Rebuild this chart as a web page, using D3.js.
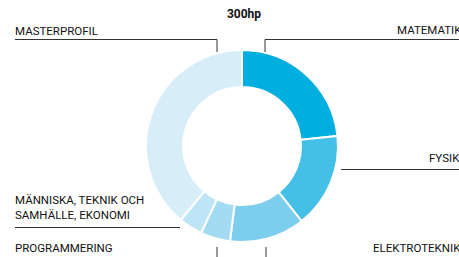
<!DOCTYPE html>
<html>
<head>
<meta charset="utf-8">
<script src="https://cdn.jsdelivr.net/npm/d3@7"></script>
<style>
  body { margin: 0; background: #fff; }
  svg { display: block; font-family: Roboto, "Noto Sans", sans-serif; }
</style>
</head>
<body>
<svg class="donut"></svg>
<script>
// course blocks of the 300hp programme
const categories = ["Matematik", "Fysik", "Elektroteknik", "Programmering", "Människa, teknik och samhälle, ekonomi", "Masterprofil"];
const credits = [70, 48, 38, 15, 12, 117];
const colors = ["#00aee0", "#44c0e8", "#7dceed", "#a2dbf2", "#bde5f6", "#d7eef9"];
const title = "300hp";

const width = 459, height = 257;
const cx = 242, cy = 146;
const outerR = 96, innerR = 59;

const svg = d3.select("svg.donut")
    .attr("width", width)
    .attr("height", height);

svg.append("text")
    .attr("x", 244).attr("y", 18)
    .attr("text-anchor", "middle")
    .attr("font-size", 12).attr("font-weight", 700)
    .attr("fill", "#111")
    .text(title);

const pie = d3.pie().sort(null).value(d => d.v);
const arc = d3.arc().innerRadius(innerR).outerRadius(outerR);
const data = categories.map((c, i) => ({ name: c, v: credits[i], color: colors[i] }));

svg.append("g")
    .attr("transform", `translate(${cx},${cy})`)
    .selectAll("path")
    .data(pie(data))
    .join("path")
    .attr("d", arc)
    .attr("fill", d => d.data.color)
    .attr("stroke", "#fff")
    .attr("stroke-width", 2);

// label layout (positions only, text comes from categories)
const labels = [
  { i: 0, x: 397, y: 34, line: [[265, 52], [265, 39.5], [470, 39.5]] },
  { i: 1, x: 429, y: 162, line: [[341, 169.5], [470, 169.5]] },
  { i: 2, x: 373, y: 252, line: [[266, 247], [266, 262]] },
  { i: 3, x: 15, y: 252, line: [[217, 247], [217, 262]] },
  { i: 4, x: 15, y: 204, line: [[15, 227.5], [180, 227.5]] },
  { i: 5, x: 15, y: 35, line: [[217, 52], [217, 39.5], [15, 39.5]] }
];

const g = svg.append("g");
labels.forEach(l => {
  g.append("path")
    .attr("d", d3.line()(l.line))
    .attr("fill", "none")
    .attr("stroke", "#333")
    .attr("stroke-width", 1);
  const name = categories[l.i].toUpperCase();
  const parts = l.i === 4 ? ["MÄNNISKA, TEKNIK OCH", "SAMHÄLLE, EKONOMI"] : [name];
  const t = g.append("text")
    .attr("x", l.x).attr("y", l.y)
    .attr("font-size", 11.5)
    .attr("fill", "#111");
  parts.forEach((p, k) => {
    t.append("tspan").attr("x", l.x).attr("dy", k === 0 ? 0 : 15).text(p);
  });
});
</script>
</body>
</html>
